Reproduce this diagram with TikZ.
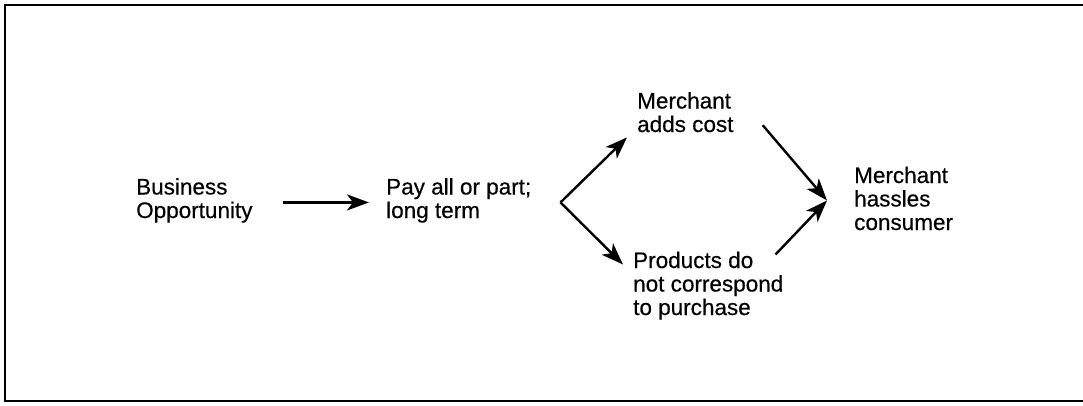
\documentclass[tikz,border=0pt]{standalone}
\usepackage{fontspec}
\newfontfamily\diagfont{Liberation Sans}[FakeBold=0.4]
\usetikzlibrary{arrows.meta}
\begin{document}
\begin{tikzpicture}[x=1pt,y=-1pt,
  txt/.style={anchor=base west,inner sep=0pt,align=left,
    font=\diagfont\fontsize{22.5}{23.5}\selectfont},
  arr/.style={line width=2.4pt,
    -{Stealth[length=22pt,width=16pt,inset=6pt]}},
  frame/.style={line width=1.3pt}]
\useasboundingbox (0,0) rectangle (1083,405);
% open frame: top, left and bottom rules
\draw[frame] (1083,5) -- (5,5) -- (5,401) -- (1083,401);

% statements (anchored at the baseline of their last line)
\node[txt] (bo)  at (136,218) {Business\\Opportunity};
\node[txt] (pay) at (386,218) {Pay all or part;\\long term};
\node[txt] (mac) at (637,132) {Merchant\\adds cost};
\node[txt] (pdn) at (633,315) {Products do\\not correspond\\to purchase};
\node[txt] (mhc) at (854,230) {Merchant\\hassles\\consumer};

% branch and join points
\coordinate (fork) at ([xshift=29pt,yshift=-2pt]pay.east);
\coordinate (join) at ([xshift=-27pt,yshift=-2pt]mhc.west);

\draw[arr] ([xshift=30pt,yshift=-2pt]bo.east) -- ([xshift=-17pt,yshift=-2pt]pay.west);
\draw[arr] (fork) -- ([xshift=-10pt,yshift=-5pt]mac.south west);
\draw[arr] (fork) -- ([xshift=-10pt,yshift=-13pt]pdn.north west);
\draw[arr] ([xshift=29pt,yshift=-13pt]mac.east) -- (join);
\draw[arr] ([xshift=-8pt,yshift=-3pt]pdn.north east) -- (join);
\end{tikzpicture}
\end{document}
